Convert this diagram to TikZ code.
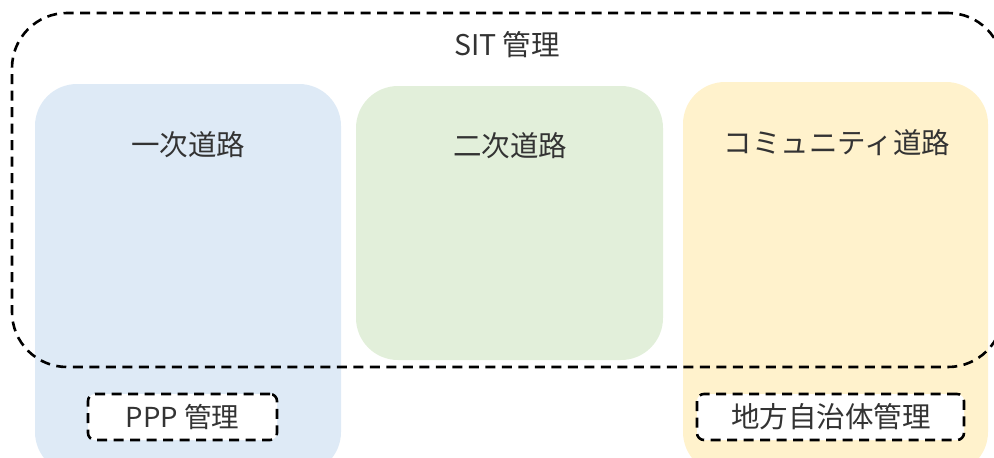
\documentclass[tikz,border=0pt]{standalone}
\usepackage{fontspec}
\setmainfont{Noto Sans CJK JP}
\definecolor{boxblue}{HTML}{DEEAF6}
\definecolor{boxgreen}{HTML}{E2EFDA}
\definecolor{boxyellow}{HTML}{FFF2CC}
\definecolor{txt}{HTML}{333333}
\tikzset{
  road/.style={rectangle, rounded corners=42pt, inner sep=0pt, outer sep=0pt, draw=none},
  dashline/.style={draw=black, line width=2.6pt, dash pattern=on 10pt off 6.5pt},
  mgmt/.style={rectangle, rounded corners=7pt, fill=white, dashline, inner sep=0pt, outer sep=0pt},
  lbl/.style={text=txt, inner sep=0pt, font=\fontsize{28.5}{33}\selectfont},
}
\begin{document}
\begin{tikzpicture}[x=1pt, y=-1pt]
\useasboundingbox (0,0) rectangle (994,458);
\clip (0,0) rectangle (994,458);
\node[road, fill=boxblue, minimum width=306pt, minimum height=390pt] (primary) at (188,279) {};
\node[road, fill=boxgreen, minimum width=307pt, minimum height=274pt] (secondary) at (509.5,223) {};
\node[road, fill=boxyellow, minimum width=305pt, minimum height=392pt] (community) at (835.5,278) {};
\node[rectangle, rounded corners=55pt, dashline, minimum width=991pt, minimum height=354pt, inner sep=0pt, outer sep=0pt] (sit) at (507.5,190) {};
\node[lbl] (sitlbl) at (507,45) {SIT 管理};
\node[lbl] (primlbl) at (188,145) {一次道路};
\node[lbl] (seclbl) at (510,146) {二次道路};
\node[lbl] (commlbl) at (837,143) {コミュニティ道路};
\node[mgmt, minimum width=189pt, minimum height=46pt] (ppp) at (182.5,417) {};
\node[lbl, font=\fontsize{27.5}{32}\selectfont] (ppplbl) at (182.5,417) {PPP 管理};
\node[mgmt, minimum width=267pt, minimum height=46pt] (local) at (830.5,417) {};
\node[lbl] (locallbl) at (831,417) {地方自治体管理};
\end{tikzpicture}
\end{document}
